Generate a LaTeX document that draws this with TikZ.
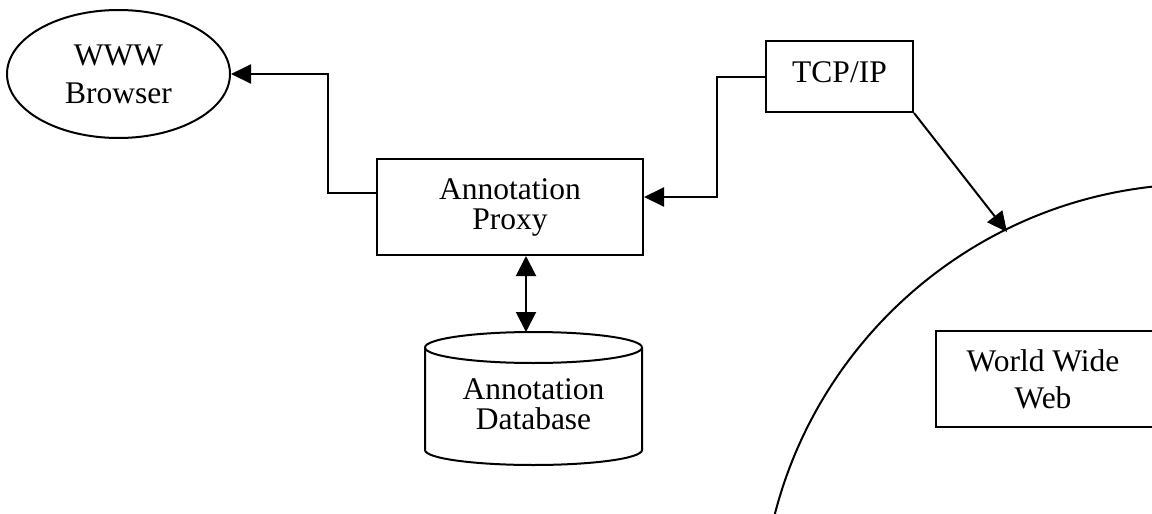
\documentclass[tikz,border=0pt]{standalone}
\usepackage{fontspec}
\setmainfont{Liberation Serif}
\usetikzlibrary{arrows.meta,shapes.geometric}
\begin{document}
\begin{tikzpicture}[x=1pt,y=-1pt,
  line width=2pt,
  fnt/.style={font=\fontsize{31.5}{#1}\selectfont},
  fnt/.default=36pt,
  box/.style={draw, rectangle, inner sep=0pt},
  arr/.style={-{Triangle[length=20pt,width=19pt]}},
  darr/.style={{Triangle[length=20pt,width=20pt]}-{Triangle[length=20pt,width=20pt]}}]
\useasboundingbox (0,0) rectangle (1152,514);

% client side
\node[draw, ellipse, minimum width=223pt, minimum height=128pt, inner sep=0pt,
      fnt=38pt, align=center] (browser) at (118.5,74) {WWW\\Browser};
\node[box, minimum width=266pt, minimum height=96pt, fnt=30pt, align=center]
      (proxy) at (510,207) {Annotation\\Proxy};
\node[box, minimum width=147pt, minimum height=71pt, text height=41pt,
      text depth=30pt, fnt] (tcp) at (839.5,76.5) {TCP/IP\hspace{9pt}};

% annotation store (cylinder)
\draw (533.5,347.5) ellipse[x radius=108.5, y radius=15.5];
\draw (425,347.5) -- (425,450)
      arc[start angle=180, end angle=0, x radius=108.5, y radius=15]
      -- (642,347.5);
\node[fnt=30pt, align=center, inner sep=0pt] (db) at (533.5,404) {Annotation\\Database};
\coordinate (dbtop) at (526,332);

% the web
\begin{scope}
  \clip (0,0) rectangle (1152,514);
  \draw (1201,624) circle[radius=440];
  \draw (936,331) rectangle (1175,427);
\end{scope}
\node[fnt=37pt, align=center, inner sep=0pt] (webtext) at (1043,379) {World Wide\\Web};
\coordinate (web) at (1007,232);

% connectors
\coordinate (bendL) at (328,74);
\coordinate (bendR) at (717,197);
\draw[arr] ([yshift=14pt]proxy.west) -| (bendL) -- (browser.east);
\draw[arr] (tcp.west) -| (bendR) -- ([yshift=10pt]proxy.east);
\draw[arr] (tcp.south east) -- (web);
\draw[darr] (proxy.south -| dbtop) -- (dbtop);
\end{tikzpicture}
\end{document}
